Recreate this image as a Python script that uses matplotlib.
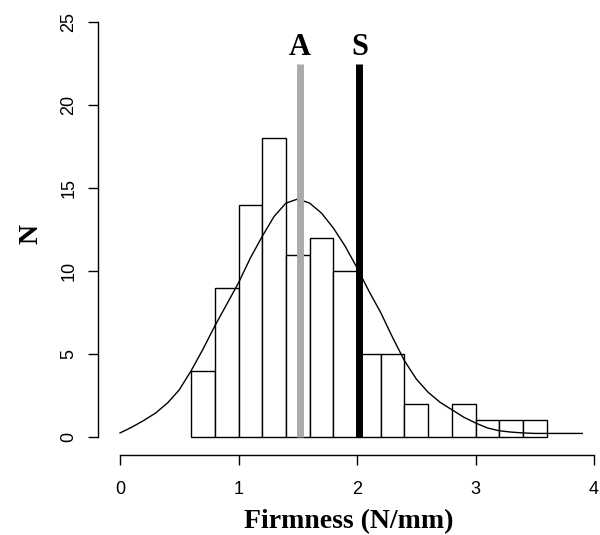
import matplotlib
matplotlib.use("Agg")
import matplotlib.pyplot as plt
import numpy as np

# 直方图：箱宽 0.2，从 0.6 到 3.6
bin_edges = [0.6, 0.8, 1.0, 1.2, 1.4, 1.6, 1.8, 2.0, 2.2, 2.4, 2.6, 2.8, 3.0, 3.2, 3.4, 3.6]
counts = [4, 9, 14, 18, 11, 12, 10, 5, 5, 2, 0, 2, 1, 1, 1]

# 密度曲线（按计数缩放）
curve_x = [0.0, 0.1, 0.2, 0.3, 0.4, 0.5, 0.6, 0.7, 0.8, 0.9, 1.0, 1.1, 1.2, 1.3,
           1.4, 1.5, 1.6, 1.7, 1.8, 1.9, 2.0, 2.1, 2.2, 2.3, 2.4, 2.5, 2.6, 2.7,
           2.8, 2.9, 3.0, 3.1, 3.2, 3.3, 3.4, 3.5, 3.6, 3.7, 3.8, 3.9]
curve_y = [0.25, 0.6, 1.0, 1.45, 2.05, 2.85, 4.0, 5.3, 6.7, 8.0, 9.3, 10.8, 12.1, 13.3,
           14.1, 14.35, 14.1, 13.5, 12.6, 11.5, 10.2, 8.8, 7.5, 6.0, 4.6, 3.5, 2.7, 2.1,
           1.65, 1.2, 0.85, 0.55, 0.38, 0.3, 0.25, 0.22, 0.22, 0.22, 0.22, 0.22]

# 参考线 A / S
ref_labels = ["A", "S"]
ref_x = [1.52, 2.02]
ref_colors = ["#aaaaaa", "black"]
ref_top = 22.5

x_ticks = [0, 1, 2, 3, 4]
y_ticks = [0, 5, 10, 15, 20, 25]

fig = plt.figure(figsize=(6.0, 5.35), dpi=100)
ax = fig.add_axes([98 / 600, 80 / 535, 502 / 600, 441 / 535])

edges = np.array(bin_edges)
ax.bar(edges[:-1], counts, width=np.diff(edges), align="edge",
       facecolor="white", edgecolor="black", linewidth=1.0, zorder=2)

ax.plot(curve_x, curve_y, color="black", linewidth=1.0, zorder=3)

for lab, xv, col in zip(ref_labels, ref_x, ref_colors):
    ax.plot([xv, xv], [0, ref_top], color=col, linewidth=5, solid_capstyle="butt", zorder=4)
    ax.text(xv, 23.05, lab, ha="center", va="baseline", fontsize=22, fontweight="bold",
            family="Liberation Serif")

ax.set_xlim(-0.186, 4.05)
ax.set_ylim(-1.08, 25.5)

# R 风格坐标轴
for s in ["top", "right"]:
    ax.spines[s].set_visible(False)
ax.spines["left"].set_bounds(0, 25)
ax.spines["bottom"].set_bounds(0, 4)
ax.spines["left"].set_linewidth(1.0)
ax.spines["bottom"].set_linewidth(1.0)

ax.set_xticks(x_ticks)
ax.set_yticks(y_ticks)
ax.set_xticklabels([str(t) for t in x_ticks], family="Liberation Sans", fontsize=13)
ax.set_yticklabels([str(t) for t in y_ticks], family="Liberation Sans", fontsize=13,
                   rotation=90, va="center")
ax.tick_params(axis="both", direction="out", length=7, width=1.0)
ax.tick_params(axis="x", pad=12)
ax.tick_params(axis="y", pad=8)

ax.set_xlabel("Firmness (N/mm)", family="Liberation Serif", fontweight="bold",
              fontsize=20, labelpad=8)
ax.set_ylabel("N", family="Liberation Serif", fontweight="bold", fontsize=20, labelpad=12)

fig.savefig("out.png", dpi=100)
